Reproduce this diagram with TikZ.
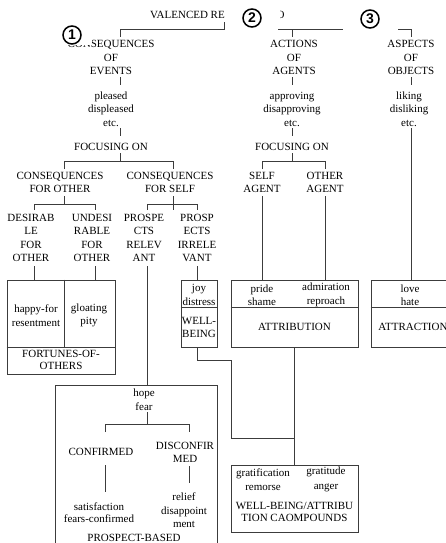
\documentclass[tikz,border=0pt]{standalone}
\usepackage{fontspec}
\setmainfont{Liberation Serif}
\newfontfamily\numfont{Liberation Sans}
\definecolor{lg}{HTML}{3C3C3C}
\tikzset{
  lbl/.style={align=center, inner sep=0pt, font=\fontsize{11}{13.5}\selectfont},
  ln/.style={draw=lg, line width=0.9pt},
  bx/.style={draw=lg, line width=0.9pt, inner sep=0pt},
  cnum/.style={circle, draw=black, line width=1.5pt, fill=white, inner sep=0pt, minimum size=18pt, font=\numfont\bfseries\fontsize{14}{14}\selectfont},
  mask/.style={fill=white, draw=none}
}
\begin{document}
\begin{tikzpicture}[x=1pt,y=-1pt]
\useasboundingbox (0,0) rectangle (446,543);

% ---------- boxes ----------
\node[bx, minimum width=108, minimum height=94] (fort) at (61,327) {};
\node[bx, minimum width=36, minimum height=67] (joyb) at (199,313.5) {};
\node[bx, minimum width=127, minimum height=67] (attb) at (294.5,313.5) {};
\node[bx, minimum width=79, minimum height=67] (atrb) at (410.5,313.5) {};
\node[bx, minimum width=162, minimum height=175] (prob) at (136,472.5) {};
\node[bx, minimum width=127, minimum height=67] (comb) at (294.5,498.5) {};

\coordinate (fdiv) at (0,347);
\coordinate (fdivx) at (64,0);
\coordinate (bdiv) at (0,307);
\draw[ln] (fort.west |- fdiv) -- (fort.east |- fdiv);
\draw[ln] (fdivx |- fort.north) -- (fdivx |- fdiv);
\draw[ln] (joyb.west |- bdiv) -- (joyb.east |- bdiv);
\draw[ln] (attb.west |- bdiv) -- (attb.east |- bdiv);
\draw[ln] (atrb.west |- bdiv) -- (atrb.east |- bdiv);

% ---------- texts ----------
\node[lbl, anchor=east] (val) at (225,15) {VALENCED RE};
\node[lbl] (oo) at (280.5,15) {O};

\node[lbl] (coe) at (111,57.5) {CONSEQUENCES\\OF\\EVENTS};
\node[lbl] (ple) at (111,109) {pleased\\displeased\\etc.};
\node[lbl] (foc1) at (111,147) {FOCUSING ON};
\node[lbl] (cfo) at (60,182.5) {CONSEQUENCES\\FOR OTHER};
\node[lbl] (cfs) at (170,182.5) {CONSEQUENCES\\FOR SELF};
\node[lbl] (des) at (31,238) {DESIRAB\\LE\\FOR\\OTHER};
\node[lbl] (und) at (92,238) {UNDESI\\RABLE\\FOR\\OTHER};
\node[lbl] (prr) at (144,238) {PROSPE\\CTS\\RELEV\\ANT};
\node[lbl] (pri) at (197,238) {PROSP\\ECTS\\IRRELE\\VANT};

\node[lbl] (hfr) at (36,315.5) {happy-for\\resentment};
\node[lbl] (glo) at (89,315.5) {gloating\\pity};
\node[lbl, font=\fontsize{11}{12}\selectfont] (fon) at (61,360) {FORTUNES-OF-\\OTHERS};

\node[lbl] (joy) at (199,295) {joy\\distress};
\node[lbl] (wb) at (199,327.5) {WELL-\\BEING};

\node[lbl] (aoa) at (294,57.5) {ACTIONS\\OF\\AGENTS};
\node[lbl] (app) at (292,109) {approving\\disapproving\\etc.};
\node[lbl] (foc2) at (292,147) {FOCUSING ON};
\node[lbl] (sa) at (262,182.5) {SELF\\AGENT};
\node[lbl] (oa) at (325,182.5) {OTHER\\AGENT};
\node[lbl] (ps) at (262,295) {pride\\shame};
\node[lbl] (ar) at (326,295) {admiration\\reproach};
\node[lbl] (att) at (294.5,327) {ATTRIBUTION};

\node[lbl] (aoo) at (411,57.5) {ASPECTS\\OF\\OBJECTS};
\node[lbl] (lik) at (409,109) {liking\\disliking\\etc.};
\node[lbl] (lh) at (410,295) {love\\hate};
\node[lbl] (atr) at (413,327) {ATTRACTION};

\node[lbl] (hope) at (144,399.5) {hope\\fear};
\node[lbl] (cnf) at (101,452) {CONFIRMED};
\node[lbl] (dis) at (185,452.5) {DISCONFIR\\MED};
\node[lbl, font=\fontsize{11}{12}\selectfont] (sat) at (99,513) {satisfaction\\fears-confirmed};
\node[lbl] (rel) at (184,510.5) {relief\\disappoint\\ment};
\node[lbl] (pb) at (134,537.5) {PROSPECT-BASED};

\node[lbl, font=\fontsize{11}{14.5}\selectfont] (gra) at (263,479.5) {gratification\\remorse};
\node[lbl, font=\fontsize{11}{14.5}\selectfont] (gat) at (326,479.5) {gratitude\\anger};
\node[lbl, font=\fontsize{11}{12}\selectfont] (wba) at (294.5,512) {WELL-BEING/ATTRIBU\\TION CAOMPOUNDS};

% ---------- masks (covered parts) ----------
\fill[mask] (66,24) rectangle (92,45);
\fill[mask] (225.6,3) rectangle (279.6,34);

% ---------- connectors ----------
% top bar
\coordinate (t1) at (120,37); \coordinate (t1b) at (120,29);
\coordinate (tr) at (224,29); \coordinate (tk) at (224,22);
\draw[ln] (t1) -- (t1b) -- (tr) -- (tk);
\coordinate (tm1) at (278,29); \coordinate (tm2) at (343,29);
\coordinate (t2) at (292,37);
\draw[ln] (tm1) -- (tm2);
\draw[ln] (t2) -- (t2 |- tm1);
\coordinate (tr2) at (398,29); \coordinate (t3) at (411.5,37);
\draw[ln] (tr2) -| (t3);

% column 1
\coordinate (a1) at (120,77); \coordinate (a2) at (120,85);
\coordinate (a3) at (120,128); \coordinate (a4) at (120,136);
\coordinate (a5) at (120,153); \coordinate (a6) at (120,161);
\coordinate (a7) at (64,169); \coordinate (a8) at (173,169);
\draw[ln] (a1) -- (a2);
\draw[ln] (a3) -- (a4);
\draw[ln] (a5) -- (a6);
\draw[ln] (a7) -- (a7 |- a6) -- (a8 |- a6) -- (a8);

\coordinate (b1) at (64,196); \coordinate (b2) at (64,204);
\coordinate (b3) at (34,210); \coordinate (b4) at (95,210);
\draw[ln] (b1) -- (b2);
\draw[ln] (b3) -- (b3 |- b2) -- (b4 |- b2) -- (b4);
\coordinate (s1) at (173,196); \coordinate (s2) at (173,210);
\coordinate (s3) at (147,210); \coordinate (s4) at (197,210); \coordinate (s5) at (0,204);
\draw[ln] (s1) -- (s2);
\draw[ln] (s3) -- (s3 |- s5) -- (s4 |- s5) -- (s4);

\coordinate (d1) at (34,266); \coordinate (d2) at (95,266);
\coordinate (d3) at (147,266); \coordinate (d4) at (197,266);
\draw[ln] (d1) -- (d1 |- fort.north);
\draw[ln] (d2) -- (d2 |- fort.north);
\draw[ln] (d3) -- (d3 |- prob.north);
\draw[ln] (d4) -- (d4 |- joyb.north);

\coordinate (w1) at (197,360); \coordinate (w2) at (231,438);
\draw[ln] (d4 |- joyb.south) -- (w1) -| (w2) -- (w2 -| attb.south);
\draw[ln] (attb.south) -- (comb.north);

% column 2
\coordinate (e1) at (292,77); \coordinate (e2) at (292,85);
\coordinate (e3) at (292,128); \coordinate (e4) at (292,136);
\coordinate (e5) at (292,153); \coordinate (e6) at (292,161);
\coordinate (e7) at (262,169); \coordinate (e8) at (325,169);
\draw[ln] (e1) -- (e2);
\draw[ln] (e3) -- (e4);
\draw[ln] (e5) -- (e6);
\draw[ln] (e7) -- (e7 |- e6) -- (e8 |- e6) -- (e8);
\coordinate (f1) at (262,196); \coordinate (f2) at (325,196);
\draw[ln] (f1) -- (f1 |- attb.north);
\draw[ln] (f2) -- (f2 |- attb.north);

% column 3
\coordinate (g1) at (411,77); \coordinate (g2) at (411,85);
\coordinate (g3) at (411,128);
\draw[ln] (g1) -- (g2);
\draw[ln] (g3) -- (g3 |- atrb.north);

% prospect
\coordinate (h1) at (147,412); \coordinate (h2) at (147,424);
\coordinate (h3) at (105,432); \coordinate (h4) at (189,432);
\draw[ln] (h1) -- (h2);
\draw[ln] (h3) -- (h3 |- h2) -- (h4 |- h2) -- (h4);
\coordinate (k1) at (105,465); \coordinate (k2) at (105,492);
\coordinate (k3) at (189,466); \coordinate (k4) at (189,483);
\draw[ln] (k1) -- (k2);
\draw[ln] (k3) -- (k4);

% ---------- circled numbers ----------
\node[cnum] (n1) at (72,35) {1};
\node[cnum] (n2) at (252,18) {2};
\node[cnum] (n3) at (370,19) {3};
\end{tikzpicture}
\end{document}
